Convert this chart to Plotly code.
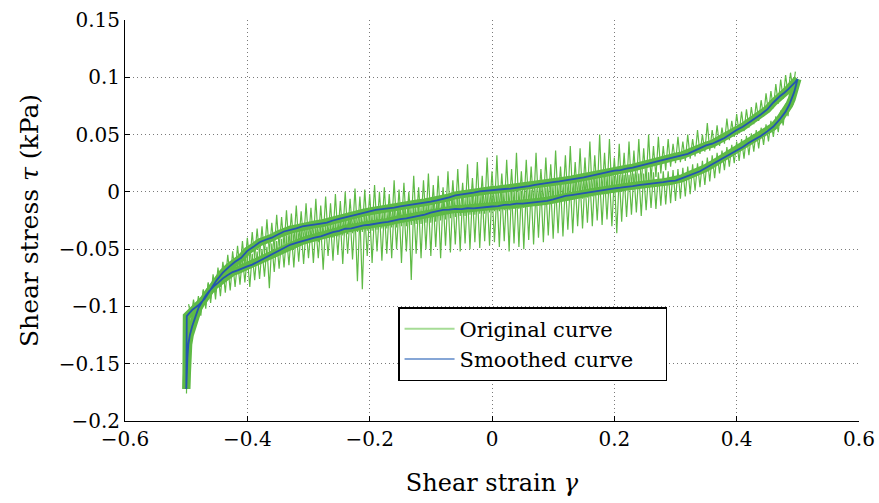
import plotly.graph_objects as go

# ---------------- data ----------------
# strain positions of the raw (original) signal samples
orig_strain = [
    -0.496, -0.492, -0.488, -0.484, -0.480, -0.476, -0.472, -0.468, -0.464, -0.460,
    -0.456, -0.452, -0.448, -0.444, -0.440, -0.436, -0.432, -0.428, -0.424, -0.420,
    -0.416, -0.412, -0.408, -0.404, -0.400, -0.396, -0.392, -0.388, -0.384, -0.380,
    -0.376, -0.372, -0.368, -0.364, -0.360, -0.356, -0.352, -0.348, -0.344, -0.340,
    -0.336, -0.332, -0.328, -0.324, -0.320, -0.316, -0.312, -0.308, -0.304, -0.300,
    -0.296, -0.292, -0.288, -0.284, -0.280, -0.276, -0.272, -0.268, -0.264, -0.260,
    -0.256, -0.252, -0.248, -0.244, -0.240, -0.236, -0.232, -0.228, -0.224, -0.220,
    -0.216, -0.212, -0.208, -0.204, -0.200, -0.196, -0.192, -0.188, -0.184, -0.180,
    -0.176, -0.172, -0.168, -0.164, -0.160, -0.156, -0.152, -0.148, -0.144, -0.140,
    -0.136, -0.132, -0.128, -0.124, -0.120, -0.116, -0.112, -0.108, -0.104, -0.100,
    -0.096, -0.092, -0.088, -0.084, -0.080, -0.076, -0.072, -0.068, -0.064, -0.060,
    -0.056, -0.052, -0.048, -0.044, -0.040, -0.036, -0.032, -0.028, -0.024, -0.020,
    -0.016, -0.012, -0.008, -0.004, 0.000, 0.004, 0.008, 0.012, 0.016, 0.020,
    0.024, 0.028, 0.032, 0.036, 0.040, 0.044, 0.048, 0.052, 0.056, 0.060,
    0.064, 0.068, 0.072, 0.076, 0.080, 0.084, 0.088, 0.092, 0.096, 0.100,
    0.104, 0.108, 0.112, 0.116, 0.120, 0.124, 0.128, 0.132, 0.136, 0.140,
    0.144, 0.148, 0.152, 0.156, 0.160, 0.164, 0.168, 0.172, 0.176, 0.180,
    0.184, 0.188, 0.192, 0.196, 0.200, 0.204, 0.208, 0.212, 0.216, 0.220,
    0.224, 0.228, 0.232, 0.236, 0.240, 0.244, 0.248, 0.252, 0.256, 0.260,
    0.264, 0.268, 0.272, 0.276, 0.280, 0.284, 0.288, 0.292, 0.296, 0.300,
    0.304, 0.308, 0.312, 0.316, 0.320, 0.324, 0.328, 0.332, 0.336, 0.340,
    0.344, 0.348, 0.352, 0.356, 0.360, 0.364, 0.368, 0.372, 0.376, 0.380,
    0.384, 0.388, 0.392, 0.396, 0.400, 0.404, 0.408, 0.412, 0.416, 0.420,
    0.424, 0.428, 0.432, 0.436, 0.440, 0.444, 0.448, 0.452, 0.456, 0.460,
    0.464, 0.468, 0.472, 0.476, 0.480, 0.484, 0.488, 0.492, 0.496,
]

# raw signal at the very start of loading (steep rise at the left end)
orig_start_strain = [-0.4995, -0.4990, -0.4985, -0.4980, -0.4970]
orig_start_stress = [-0.176, -0.152, -0.162, -0.135, -0.145]

# raw stress, loading branch (lower side of the loop)
orig_stress_load = [
    -0.126, -0.134, -0.106, -0.116, -0.094, -0.108, -0.086, -0.102, -0.080, -0.097,
    -0.075, -0.094, -0.071, -0.091, -0.067, -0.088, -0.064, -0.086, -0.061, -0.083,
    -0.060, -0.081, -0.057, -0.079, -0.056, -0.083, -0.054, -0.077, -0.052, -0.076,
    -0.050, -0.074, -0.048, -0.084, -0.045, -0.070, -0.043, -0.067, -0.041, -0.066,
    -0.038, -0.064, -0.036, -0.066, -0.034, -0.061, -0.033, -0.063, -0.032, -0.058,
    -0.031, -0.062, -0.030, -0.058, -0.029, -0.068, -0.028, -0.056, -0.027, -0.060,
    -0.025, -0.055, -0.024, -0.063, -0.022, -0.054, -0.021, -0.059, -0.020, -0.078,
    -0.020, -0.085, -0.019, -0.056, -0.018, -0.062, -0.017, -0.052, -0.016, -0.060,
    -0.015, -0.054, -0.014, -0.058, -0.013, -0.050, -0.012, -0.062, -0.012, -0.052,
    -0.011, -0.077, -0.011, -0.054, -0.010, -0.058, -0.009, -0.050, -0.008, -0.056,
    -0.007, -0.048, -0.006, -0.058, -0.005, -0.047, -0.004, -0.053, -0.004, -0.046,
    -0.003, -0.052, -0.003, -0.045, -0.002, -0.050, -0.002, -0.044, -0.001, -0.049,
    -0.002, -0.043, -0.001, -0.047, 0.000, -0.044, 0.000, -0.048, 0.001, -0.043,
    0.000, -0.052, 0.001, -0.045, 0.002, -0.048, 0.001, -0.050, 0.002, -0.042,
    0.002, -0.046, 0.003, -0.040, 0.004, -0.044, 0.004, -0.038, 0.005, -0.041,
    0.006, -0.036, 0.007, -0.039, 0.008, -0.033, 0.008, -0.036, 0.009, -0.030,
    0.010, -0.032, 0.010, -0.027, 0.011, -0.030, 0.012, -0.025, 0.013, -0.029,
    0.013, -0.024, 0.014, -0.030, 0.014, -0.036, 0.015, -0.026, 0.015, -0.022,
    0.015, -0.020, 0.016, -0.018, 0.016, -0.021, 0.016, -0.016, 0.017, -0.014,
    0.017, -0.015, 0.017, -0.012, 0.018, -0.011, 0.018, -0.010, 0.019, -0.008,
    0.020, -0.006, 0.021, -0.004, 0.022, -0.002, 0.024, 0.001, 0.025, 0.004,
    0.027, 0.006, 0.030, 0.009, 0.032, 0.012, 0.034, 0.016, 0.036, 0.019,
    0.039, 0.022, 0.041, 0.025, 0.044, 0.027, 0.046, 0.029, 0.049, 0.032,
    0.051, 0.035, 0.054, 0.038, 0.056, 0.041, 0.059, 0.044, 0.062, 0.048,
    0.066, 0.052, 0.071, 0.058, 0.077, 0.066, 0.086, 0.076, 0.097,
]

# raw stress, unloading branch (upper side of the loop), same strain samples
orig_stress_unload = [
    -0.098, -0.110, -0.094, -0.107, -0.091, -0.104, -0.085, -0.099, -0.079, -0.093,
    -0.072, -0.088, -0.066, -0.083, -0.061, -0.078, -0.055, -0.075, -0.052, -0.071,
    -0.047, -0.068, -0.043, -0.065, -0.040, -0.061, -0.035, -0.058, -0.032, -0.056,
    -0.030, -0.055, -0.024, -0.053, -0.027, -0.051, -0.020, -0.049, -0.022, -0.048,
    -0.016, -0.047, -0.019, -0.046, -0.012, -0.045, -0.017, -0.044, -0.010, -0.043,
    -0.014, -0.042, -0.006, -0.044, -0.012, -0.041, -0.004, -0.040, -0.010, -0.040,
    -0.002, -0.039, -0.008, -0.038, 0.000, -0.037, -0.006, -0.036, 0.003, -0.035,
    -0.004, -0.035, 0.002, -0.034, -0.002, -0.034, 0.006, -0.033, 0.000, -0.032,
    0.004, -0.032, -0.002, -0.031, 0.010, -0.031, 0.002, -0.030, 0.008, -0.030,
    0.000, -0.029, 0.014, -0.028, 0.004, -0.028, 0.010, -0.027, 0.016, -0.027,
    0.006, -0.026, 0.014, -0.025, 0.004, -0.024, 0.018, -0.023, 0.010, -0.022,
    0.020, -0.021, 0.008, -0.021, 0.024, -0.020, 0.012, -0.020, 0.026, -0.019,
    0.014, -0.019, 0.030, -0.018, 0.018, -0.017, 0.032, -0.017, 0.016, -0.016,
    0.028, -0.016, 0.020, -0.015, 0.034, -0.015, 0.018, -0.014, 0.028, -0.013,
    0.022, -0.012, 0.034, -0.012, 0.020, -0.011, 0.030, -0.010, 0.024, -0.010,
    0.036, -0.009, 0.022, -0.008, 0.032, -0.008, 0.040, -0.007, 0.026, -0.006,
    0.038, -0.006, 0.030, -0.005, 0.044, -0.004, 0.032, -0.003, 0.050, -0.002,
    0.034, -0.002, 0.046, -0.001, 0.030, 0.000, 0.042, 0.001, 0.034, 0.002,
    0.044, 0.003, 0.036, 0.005, 0.046, 0.006, 0.038, 0.008, 0.050, 0.010,
    0.040, 0.013, 0.048, 0.016, 0.040, 0.019, 0.046, 0.022, 0.042, 0.025,
    0.048, 0.026, 0.044, 0.027, 0.050, 0.029, 0.046, 0.031, 0.054, 0.033,
    0.050, 0.035, 0.060, 0.036, 0.054, 0.038, 0.058, 0.040, 0.056, 0.042,
    0.064, 0.045, 0.062, 0.048, 0.068, 0.051, 0.070, 0.053, 0.072, 0.056,
    0.074, 0.059, 0.078, 0.062, 0.080, 0.066, 0.086, 0.069, 0.088, 0.073,
    0.094, 0.077, 0.098, 0.081, 0.102, 0.085, 0.104, 0.089, 0.105,
]

# smoothed curve: loading branch (bottom-left -> top-right)
smooth_load_strain = [
    -0.4998, -0.4992, -0.498, -0.4965, -0.494, -0.490, -0.485, -0.480, -0.474, -0.468,
    -0.462, -0.455, -0.448, -0.440, -0.432, -0.424, -0.416, -0.408, -0.400, -0.392,
    -0.384, -0.376, -0.368, -0.360, -0.350, -0.340, -0.330, -0.320, -0.310, -0.300,
    -0.290, -0.280, -0.270, -0.260, -0.250, -0.240, -0.230, -0.220, -0.210, -0.200,
    -0.190, -0.180, -0.170, -0.160, -0.150, -0.140, -0.130, -0.120, -0.110, -0.100,
    -0.090, -0.080, -0.070, -0.060, -0.050, -0.040, -0.030, -0.020, -0.010, 0.000,
    0.010, 0.020, 0.030, 0.040, 0.050, 0.060, 0.070, 0.080, 0.090, 0.100,
    0.110, 0.120, 0.130, 0.140, 0.150, 0.160, 0.170, 0.180, 0.190, 0.200,
    0.210, 0.220, 0.230, 0.240, 0.250, 0.260, 0.270, 0.280, 0.290, 0.300,
    0.310, 0.320, 0.330, 0.340, 0.350, 0.360, 0.370, 0.380, 0.390, 0.400,
    0.410, 0.420, 0.430, 0.440, 0.450, 0.460, 0.470, 0.480, 0.486, 0.490,
    0.494, 0.497, 0.4995,
]
smooth_load_stress = [
    -0.172, -0.158, -0.145, -0.133, -0.125, -0.117, -0.109, -0.1015, -0.096, -0.0905,
    -0.0865, -0.0825, -0.0795, -0.0755, -0.0725, -0.0700, -0.0685, -0.0665, -0.0650, -0.0635,
    -0.0612, -0.0595, -0.0568, -0.0545, -0.0515, -0.0492, -0.0462, -0.0445, -0.0428, -0.0412,
    -0.0400, -0.0388, -0.0368, -0.0352, -0.0340, -0.0322, -0.0318, -0.0305, -0.0292, -0.0287,
    -0.0275, -0.0268, -0.0262, -0.0248, -0.0238, -0.0232, -0.0222, -0.0213, -0.0198, -0.0182,
    -0.0170, -0.0158, -0.0155, -0.0149, -0.0150, -0.0143, -0.0145, -0.0138, -0.0136, -0.0128,
    -0.0124, -0.0114, -0.0112, -0.0103, -0.0103, -0.0098, -0.0092, -0.0084, -0.0078, -0.0066,
    -0.0050, -0.0036, -0.0028, -0.0019, -0.0012, -0.0005, 0.0004, 0.0016, 0.0022, 0.0031,
    0.0036, 0.0046, 0.0050, 0.0059, 0.0064, 0.0071, 0.0080, 0.0085, 0.0093, 0.0098,
    0.0118, 0.0140, 0.0158, 0.0180, 0.0210, 0.0240, 0.0272, 0.0300, 0.0330, 0.0360,
    0.0392, 0.0428, 0.0458, 0.0490, 0.0528, 0.0570, 0.0630, 0.0700, 0.0760, 0.0810,
    0.0870, 0.0930, 0.0985,
]

# smoothed curve: unloading branch (top-right -> left end, then down to start)
smooth_unload_strain = [
    0.4995, 0.496, 0.490, 0.484, 0.478, 0.470, 0.460, 0.450, 0.440, 0.430,
    0.420, 0.410, 0.400, 0.390, 0.380, 0.370, 0.360, 0.350, 0.340, 0.330,
    0.320, 0.310, 0.300, 0.290, 0.280, 0.270, 0.260, 0.250, 0.240, 0.230,
    0.220, 0.210, 0.200, 0.190, 0.180, 0.170, 0.160, 0.150, 0.140, 0.130,
    0.120, 0.110, 0.100, 0.090, 0.080, 0.070, 0.060, 0.050, 0.040, 0.030,
    0.020, 0.010, 0.000, -0.010, -0.020, -0.030, -0.040, -0.050, -0.060, -0.070,
    -0.080, -0.090, -0.100, -0.110, -0.120, -0.130, -0.140, -0.150, -0.160, -0.170,
    -0.180, -0.190, -0.200, -0.210, -0.220, -0.230, -0.240, -0.250, -0.260, -0.270,
    -0.280, -0.290, -0.300, -0.310, -0.320, -0.330, -0.340, -0.350, -0.360, -0.370,
    -0.380, -0.390, -0.400, -0.410, -0.420, -0.430, -0.440, -0.450, -0.460, -0.470,
    -0.480, -0.490, -0.496, -0.499, -0.4998,
]
smooth_unload_stress = [
    0.0985, 0.0960, 0.0925, 0.0895, 0.0865, 0.0832, 0.0780, 0.0720, 0.0678, 0.0640,
    0.0600, 0.0568, 0.0540, 0.0505, 0.0470, 0.0445, 0.0420, 0.0405, 0.0380, 0.0352,
    0.0332, 0.0318, 0.0308, 0.0292, 0.0280, 0.0266, 0.0250, 0.0238, 0.0225, 0.0212,
    0.0202, 0.0190, 0.0185, 0.0172, 0.0160, 0.0148, 0.0134, 0.0126, 0.0118, 0.0108,
    0.0100, 0.0092, 0.0085, 0.0078, 0.0070, 0.0060, 0.0050, 0.0042, 0.0030, 0.0028,
    0.0025, 0.0020, 0.0017, 0.0010, 0.0005, -0.0006, -0.0013, -0.0022, -0.0030, -0.0048,
    -0.0063, -0.0075, -0.0085, -0.0092, -0.0099, -0.0106, -0.0113, -0.0126, -0.0137, -0.0143,
    -0.0150, -0.0158, -0.0170, -0.0182, -0.0198, -0.0208, -0.0220, -0.0235, -0.0250, -0.0268,
    -0.0277, -0.0284, -0.0290, -0.0302, -0.0318, -0.0330, -0.0346, -0.0372, -0.0400, -0.0418,
    -0.0440, -0.0480, -0.0515, -0.0575, -0.0610, -0.0655, -0.0705, -0.0770, -0.0855, -0.0935,
    -0.0990, -0.1030, -0.1065, -0.1085, -0.172,
]

legend_names = ["Original curve", "Smoothed curve"]
x_ticks = [-0.6, -0.4, -0.2, 0, 0.2, 0.4, 0.6]
y_ticks = [-0.2, -0.15, -0.1, -0.05, 0, 0.05, 0.1, 0.15]

GREEN = "#5fba46"
BLUE = "#2455b0"
FONT = "DejaVu Serif"
PAD = "\u00a0" * 4  # right padding inside the legend box

fig = go.Figure()

# dense core of the raw signal (band around each branch)
for sx, sy in ((smooth_load_strain, smooth_load_stress),
               (smooth_unload_strain, smooth_unload_stress)):
    fig.add_trace(go.Scatter(x=sx, y=sy, mode="lines",
                             line=dict(color=GREEN, width=8),
                             showlegend=False, hoverinfo="skip"))

# raw oscillating signal
fig.add_trace(go.Scatter(
    x=orig_start_strain + orig_strain, y=orig_start_stress + orig_stress_load,
    mode="lines", line=dict(color=GREEN, width=1.2), showlegend=False))
fig.add_trace(go.Scatter(
    x=orig_strain[::-1], y=orig_stress_unload[::-1],
    mode="lines", line=dict(color=GREEN, width=1.2), showlegend=False))

# smoothed curve
fig.add_trace(go.Scatter(
    x=smooth_load_strain + smooth_unload_strain,
    y=smooth_load_stress + smooth_unload_stress,
    mode="lines", line=dict(color=BLUE, width=1.8), showlegend=False))

# legend entries
fig.add_trace(go.Scatter(x=[None], y=[None], mode="lines",
                         line=dict(color="#a6dc96", width=2), name=legend_names[0]))
fig.add_trace(go.Scatter(x=[None], y=[None], mode="lines",
                         line=dict(color="#86a6d6", width=2), name=legend_names[1] + PAD))

axis_common = dict(
    showgrid=True, gridcolor="#7a7a7a", griddash="1px,3px", gridwidth=1,
    zeroline=False, showline=True, linecolor="black", linewidth=1,
    ticks="inside", ticklen=5, tickcolor="black", mirror=False,
    tickfont=dict(family=FONT, size=20, color="black"),
)

fig.update_layout(
    width=879, height=503,
    margin=dict(l=125, r=20, t=20, b=82, autoexpand=False),
    paper_bgcolor="white", plot_bgcolor="white",
    font=dict(family=FONT, color="black"),
    xaxis=dict(range=[-0.6, 0.6], tickvals=x_ticks, **axis_common,
               title=dict(text="Shear strain <i>γ</i>", font=dict(family=FONT, size=24),
                          standoff=24)),
    yaxis=dict(range=[-0.2, 0.15], tickvals=y_ticks, **axis_common,
               title=dict(text="Shear stress <i>τ</i> (kPa)", font=dict(family=FONT, size=25),
                          standoff=12)),
    legend=dict(x=0.372, y=0.284, xanchor="left", yanchor="top",
                bgcolor="white", bordercolor="black", borderwidth=1.5,
                font=dict(family=FONT, size=21, color="black"),
                itemwidth=50, tracegroupgap=0),
)

fig.write_html("out.html")
